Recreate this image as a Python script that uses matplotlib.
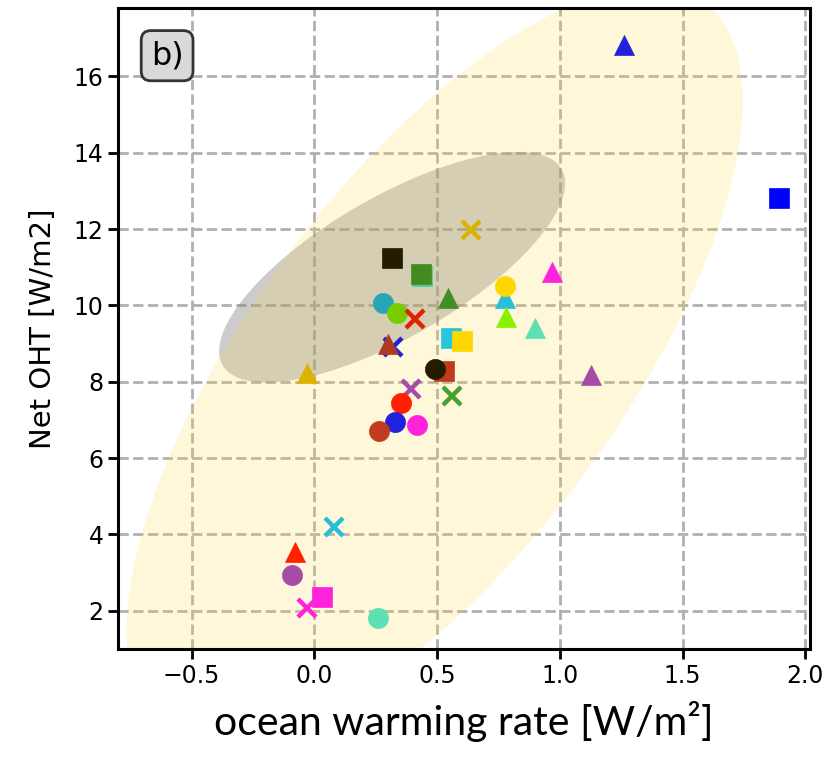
import numpy as np
import matplotlib
matplotlib.use("Agg")
import matplotlib.pyplot as plt
from matplotlib.patches import Ellipse
import matplotlib.transforms as transforms

# ---- data ----
x_vals = [1.26, 1.894, 0.638, 0.317, 0.44, 0.435, 0.545, 0.776, 0.776, 0.967,
          0.78, 0.90, 1.126, 0.28, 0.337, 0.41, 0.32, 0.30, 0.557, 0.60,
          0.53, 0.49, -0.03, 0.394, 0.354, 0.56, 0.33, 0.42, 0.264, 0.08,
          -0.08, -0.09, -0.03, 0.03, 0.26]
y_vals = [16.82, 12.81, 11.97, 11.24, 10.77, 10.82, 10.19, 10.2, 10.5, 10.87,
          9.70, 9.40, 8.18, 10.06, 9.80, 9.64, 8.91, 8.99, 9.15, 9.07,
          8.28, 8.34, 8.23, 7.81, 7.45, 7.63, 6.95, 6.87, 6.71, 4.20,
          3.54, 2.94, 2.08, 2.37, 1.82]
markers = ['^', 's', 'x', 's', 's', 's', '^', '^', 'o', '^',
           '^', '^', '^', 'o', 'o', 'x', 'x', '^', 's', 's',
           's', 'o', '^', 'x', 'o', 'x', 'o', 'o', 'o', 'x',
           '^', 'o', 'x', 's', 'o']
colors = ['#2222dd', '#0000ff', '#d8b400', '#231c00', '#4fc9a0', '#438a1f', '#3f8f25', '#26c0d8', '#ffd700', '#ff22dd',
          '#88f000', '#5ee0b4', '#a64ca6', '#27a6b8', '#77cc00', '#dd2200', '#2222dd', '#b03a1e', '#28c6dd', '#ffd700',
          '#c03a1e', '#231c00', '#dcb400', '#a64ca6', '#ff2000', '#44a030', '#2222dd', '#ff22dd', '#c03c1e', '#28bcd8',
          '#ff2200', '#a64ca6', '#ff22dd', '#ff22dd', '#5ee0b4']

# observational-style (gray) ellipse parameters
obs_center = (0.317, 11.0)
obs_std = (0.705, 3.02)
obs_corr = 0.727

model_n_std = 3.1

x_ticks = [-0.5, 0.0, 0.5, 1.0, 1.5, 2.0]
y_ticks = [2, 4, 6, 8, 10, 12, 14, 16]


def corr_ellipse(ax, center, std, rho, n_std, **kw):
    e = Ellipse((0, 0), width=2 * np.sqrt(1 + rho), height=2 * np.sqrt(1 - rho), **kw)
    t = (transforms.Affine2D().rotate_deg(45)
         .scale(std[0] * n_std, std[1] * n_std)
         .translate(center[0], center[1]))
    e.set_transform(t + ax.transData)
    ax.add_patch(e)
    return e


fig = plt.figure(figsize=(8.25, 7.59), dpi=100)
ax = fig.add_axes([0.143, 0.145, 0.839, 0.845])

# gray ellipse under, model spread ellipse on top
corr_ellipse(ax, obs_center, obs_std, obs_corr, 1.0,
             facecolor='gray', alpha=0.4, edgecolor='none', zorder=1)
xa = np.array(x_vals)
ya = np.array(y_vals)
cov = np.cov(xa, ya)
rho = cov[0, 1] / np.sqrt(cov[0, 0] * cov[1, 1])
corr_ellipse(ax, (xa.mean(), ya.mean()), (np.sqrt(cov[0, 0]), np.sqrt(cov[1, 1])), rho,
             model_n_std, facecolor='#ffdb4a', alpha=0.2, edgecolor='none', zorder=1.1)

for xv, yv, m, c in zip(x_vals, y_vals, markers, colors):
    if m == 'x':
        ax.plot(xv, yv, marker='x', color=c, markersize=13, markeredgewidth=3.2,
                linestyle='none', zorder=3)
    else:
        ax.plot(xv, yv, marker=m, color=c, markersize=14.5 if m != '^' else 14,
                markeredgewidth=0.5, linestyle='none', zorder=3)

ax.set_xlim(-0.8, 2.02)
ax.set_ylim(1.0, 17.8)
ax.set_xticks(x_ticks)
ax.set_yticks(y_ticks)
ax.set_axisbelow(True)
ax.grid(True, linestyle='--', color='#b0b0b0', linewidth=2)
for s in ax.spines.values():
    s.set_linewidth(2.2)
    s.set_color('black')
ax.tick_params(axis='both', labelsize=17, width=2, length=7, color='black')

ax.set_ylabel('Net OHT [W/m2]', fontsize=21, labelpad=12)
ax.set_xlabel('ocean warming rate [W/m²]', fontsize=29.5, family='Lato', labelpad=10)

ax.text(0.071, 0.925, 'b)', transform=ax.transAxes, fontsize=23, ha='center', va='center',
        bbox=dict(boxstyle='round,pad=0.3', facecolor='#d9d9d9', edgecolor='#333333', linewidth=2),
        zorder=5)

fig.savefig('out.png', dpi=100)
